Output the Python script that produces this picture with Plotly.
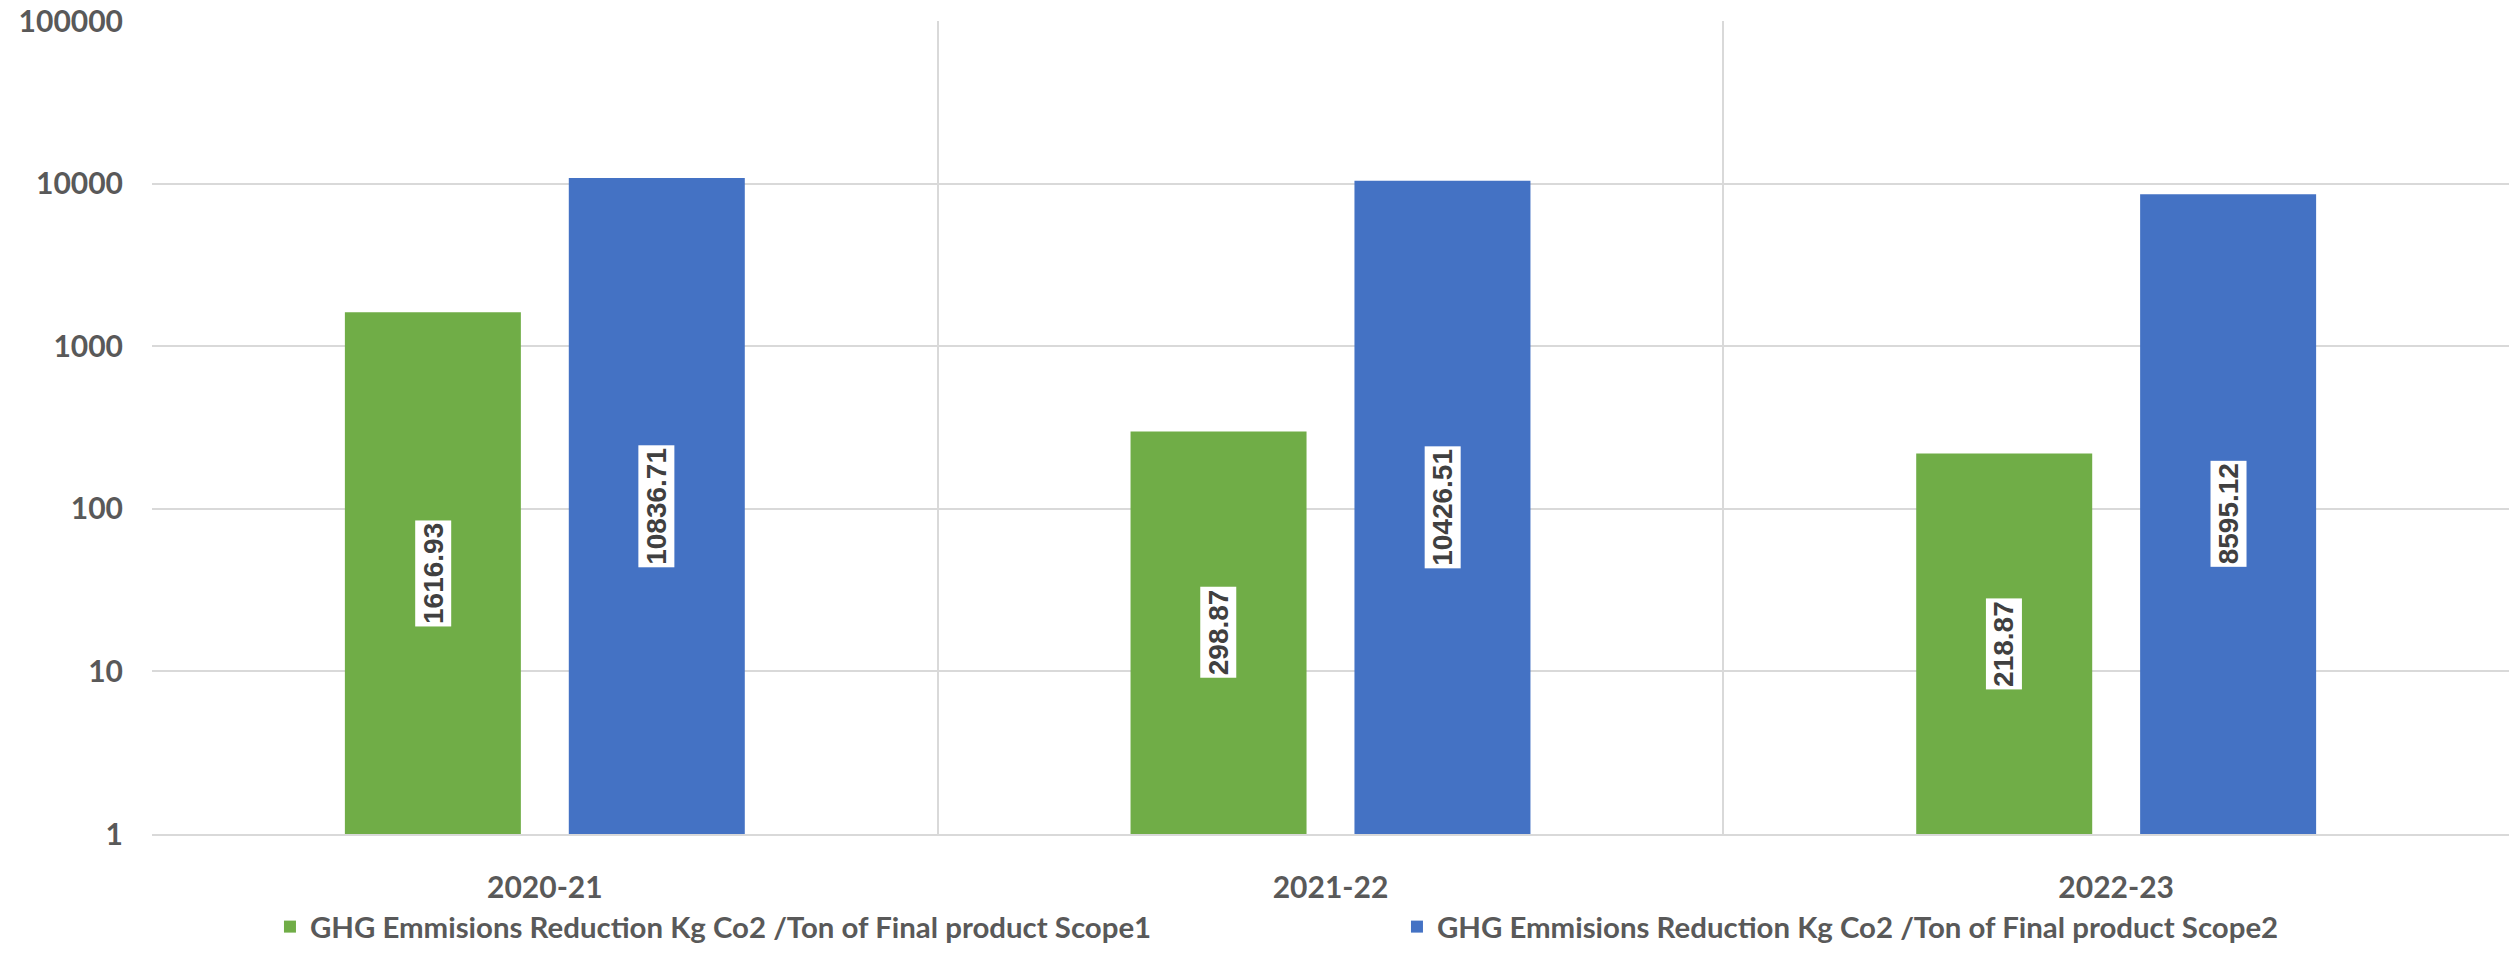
import numpy as np
import plotly.graph_objects as go

categories = ["2020-21", "2021-22", "2022-23"]
scope1 = [1616.93, 298.87, 218.87]
scope2 = [10836.71, 10426.51, 8595.12]
series_names = [
    "GHG Emmisions Reduction Kg Co2 /Ton of Final product Scope1",
    "GHG Emmisions Reduction Kg Co2 /Ton of Final product Scope2",
]
y_tickvals = [1, 10, 100, 1000, 10000, 100000]
y_ticktext = ["1", "10", "100", "1000", "10000", "100000"]

GREEN = "#70AD47"
BLUE = "#4472C4"
AXIS_TEXT = "#595959"
GRID = "#D9D9D9"
FONT = "Lato"

fig = go.Figure()
fig.add_trace(go.Bar(x=categories, y=scope1, name=series_names[0],
                     marker=dict(color=GREEN, line=dict(width=0))))
fig.add_trace(go.Bar(x=categories, y=scope2, name=series_names[1],
                     marker=dict(color=BLUE, line=dict(width=0))))

annotations = []
for vals, shift in ((scope1, -112), (scope2, 112)):
    for c, v in zip(categories, vals):
        annotations.append(dict(
            x=c, y=0.5 * np.log10(v), xref="x", yref="y",
            text=f"{v:.2f}", showarrow=False, textangle=-90,
            xshift=shift, bgcolor="white", borderpad=2,
            font=dict(family="Liberation Sans", size=28, color="#404040", weight="bold"),
        ))

fig.update_layout(
    width=2509, height=953,
    margin=dict(l=152, r=0, t=21, b=119, autoexpand=False),
    paper_bgcolor="white", plot_bgcolor="white",
    barmode="group", bargap=0.43, bargroupgap=0.214,
    showlegend=True,
    legend=dict(orientation="h", xref="container", yref="container",
                x=0.1076, xanchor="left", y=-0.006, yanchor="bottom",
                entrywidth=1082, entrywidthmode="pixels",
                font=dict(family=FONT, size=29.4, color=AXIS_TEXT, weight="bold"),
                bgcolor="rgba(0,0,0,0)"),
    annotations=annotations,
    font=dict(family=FONT, color=AXIS_TEXT),
)
fig.update_xaxes(
    type="category", tickson="boundaries", showgrid=True, gridcolor=GRID, gridwidth=2,
    showline=True, linecolor=GRID, linewidth=2, ticks="",
    ticklabelstandoff=26,
    tickfont=dict(family=FONT, size=30, color=AXIS_TEXT, weight="bold"),
)
fig.update_yaxes(
    type="log", range=[0, 5], tickvals=y_tickvals, ticktext=y_ticktext,
    showgrid=True, gridcolor=GRID, gridwidth=2, zeroline=False, showline=False,
    ticks="", ticklabelstandoff=28,
    tickfont=dict(family=FONT, size=30, color=AXIS_TEXT, weight="bold"),
)

fig.write_html("out.html")
